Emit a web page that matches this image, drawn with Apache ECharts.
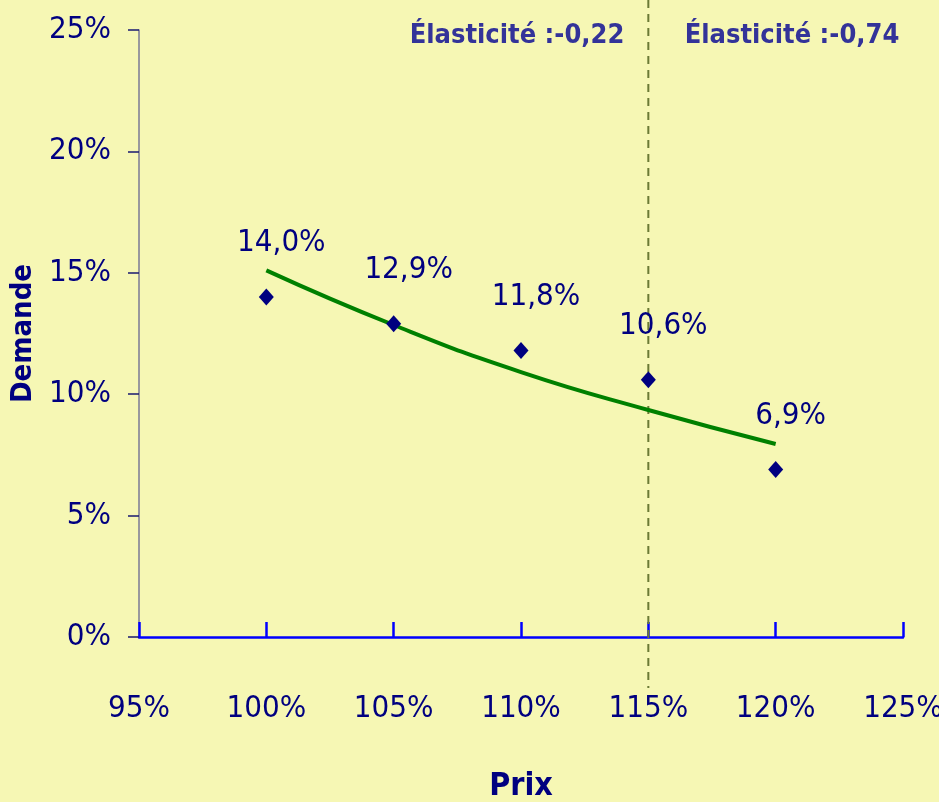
<!DOCTYPE html>
<html>
<head>
<meta charset="utf-8">
<script src="https://cdn.jsdelivr.net/npm/echarts@6/dist/echarts.min.js"></script>
<style>
  html, body { margin: 0; padding: 0; background: #f6f7b4; }
  #chart { width: 939px; height: 802px; }
</style>
</head>
<body>
<div id="chart"></div>
<script>
// prix (% du prix de référence) et demande observée
const prix = [100, 105, 110, 115, 120]
const demande = [14.0, 12.9, 11.8, 10.6, 6.9]
// courbe de tendance
const tendancePrix = [100, 105, 110, 115, 120]
const tendanceDemande = [15.1, 12.85, 10.91, 9.35, 7.95]
const elasticites = ['Élasticité :-0,22', 'Élasticité :-0,74']
const prixCoupure = 115

const FONT = "'DejaVu Sans Condensed', 'Liberation Sans Narrow', sans-serif"
const NAVY = '#000080'

const chart = echarts.init(document.getElementById('chart'))

const pct = (v) => `${v}%`
const pctFr = (v) => v.toFixed(1).replace('.', ',') + '%'

chart.setOption({
  backgroundColor: '#f6f7b4',
  animation: false,
  grid: { left: 139, right: 36, top: 30, bottom: 165, outerBoundsMode: 'none' },
  xAxis: {
    type: 'value',
    min: 95,
    max: 125,
    interval: 5,
    name: 'Prix',
    nameLocation: 'middle',
    nameGap: 134,
    nameTextStyle: { color: NAVY, fontFamily: FONT, fontSize: 32, fontWeight: 'bold' },
    axisLine: { lineStyle: { color: '#0000ff', width: 2.5 } },
    axisTick: { inside: true, length: 15, lineStyle: { color: '#0000ff', width: 2.5 } },
    axisLabel: { color: NAVY, fontFamily: FONT, fontSize: 31, margin: 56, formatter: pct },
    splitLine: { show: false },
  },
  yAxis: {
    type: 'value',
    min: 0,
    max: 25,
    interval: 5,
    name: 'Demande',
    nameLocation: 'middle',
    nameGap: 100,
    nameTextStyle: { color: NAVY, fontFamily: FONT, fontSize: 29, fontWeight: 'bold' },
    axisLine: { show: true, lineStyle: { color: '#7a7a96', width: 1.5 } },
    axisTick: { show: true, length: 11, lineStyle: { color: '#1a1a70', width: 1.5 } },
    axisLabel: { color: NAVY, fontFamily: FONT, fontSize: 31, margin: 28, formatter: pct },
    splitLine: { show: false },
  },
  series: [
    {
      type: 'line',
      data: tendancePrix.map((p, i) => [p, tendanceDemande[i]]),
      smooth: true,
      showSymbol: false,
      lineStyle: { color: '#008000', width: 4 },
      z: 2,
    },
    {
      type: 'scatter',
      data: prix.map((p, i) => [p, demande[i]]),
      symbol: 'diamond',
      symbolSize: [15, 17],
      itemStyle: { color: NAVY, opacity: 1 },
      label: {
        show: true,
        position: 'top',
        distance: 8,
        offset: [15, -22],
        color: NAVY,
        fontFamily: FONT,
        fontSize: 31,
        formatter: (p) => pctFr(p.value[1]),
      },
      z: 3,
    },
  ],
})

// ligne pointillée verticale au prix de coupure + textes d'élasticité
const xCut = chart.convertToPixel({ gridIndex: 0 }, [prixCoupure, 0])
chart.setOption({
  graphic: [
    {
      type: 'line',
      shape: { x1: xCut[0], y1: 0, x2: xCut[0], y2: xCut[1] + 51 },
      style: { stroke: '#6b7a35', lineWidth: 2, lineDash: [8, 6] },
      z: 1,
    },
    {
      type: 'text',
      x: 517,
      y: 36,
      style: {
        text: elasticites[0],
        fill: '#333399',
        font: `bold 27px ${FONT}`,
        textAlign: 'center',
        textVerticalAlign: 'middle',
      },
    },
    {
      type: 'text',
      x: 792,
      y: 36,
      style: {
        text: elasticites[1],
        fill: '#333399',
        font: `bold 27px ${FONT}`,
        textAlign: 'center',
        textVerticalAlign: 'middle',
      },
    },
  ],
})

window.addEventListener('resize', () => chart.resize())
</script>
</body>
</html>
